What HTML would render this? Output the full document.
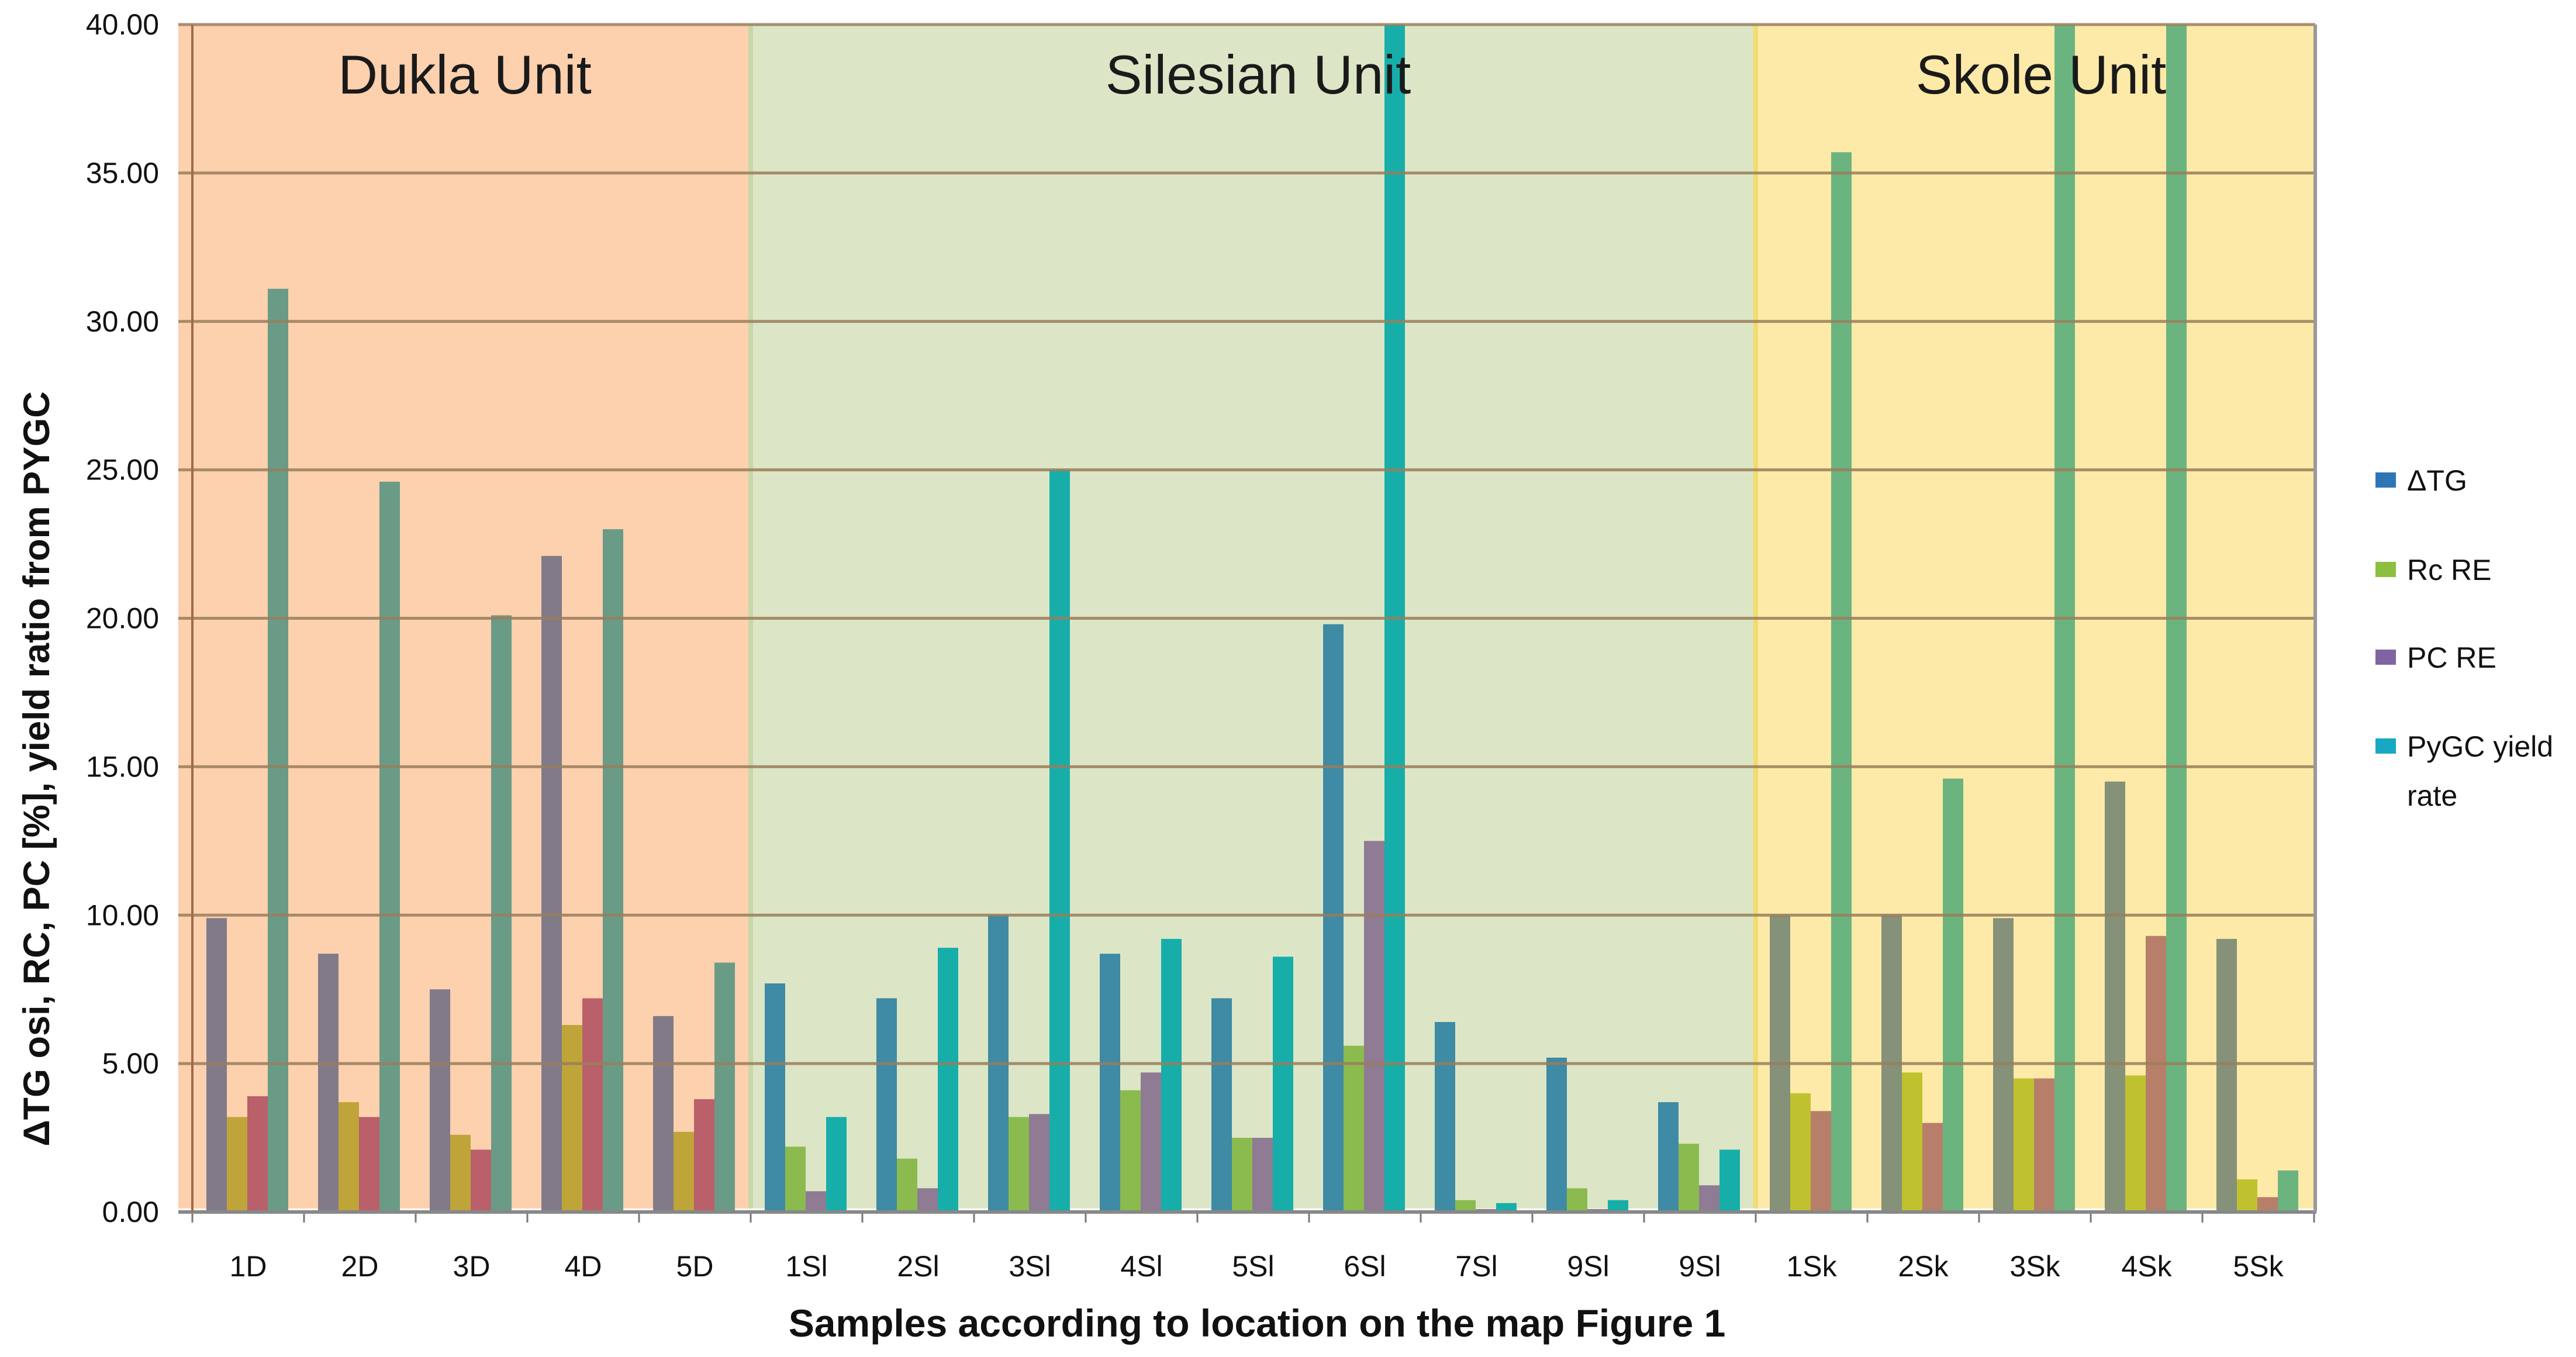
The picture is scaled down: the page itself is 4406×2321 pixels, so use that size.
<!DOCTYPE html>
<html><head><meta charset="utf-8">
<style>
html,body{margin:0;padding:0;background:#fff;}
svg{display:block;}
text{font-family:"Liberation Sans Narrow","Liberation Sans",sans-serif;}
</style></head>
<body>
<svg id="chart" width="4406" height="2321" viewBox="0 0 4406 2321" xmlns="http://www.w3.org/2000/svg">
<g id="regions"></g>
<g id="bars"></g>
<g id="overlays"></g>
<g id="grid"></g>
<g id="axes"></g>
<g id="labels"></g>
<g id="legend"></g>
</svg>
<script>
const categories = ["1D","2D","3D","4D","5D","1Sl","2Sl","3Sl","4Sl","5Sl","6Sl","7Sl","9Sl","9Sl","1Sk","2Sk","3Sk","4Sk","5Sk"];
const seriesNames = ["ΔTG","Rc RE","PC RE","PyGC yield rate"];
const dtg   = [9.9,8.7,7.5,22.1,6.6,7.7,7.2,10.0,8.7,7.2,19.8,6.4,5.2,3.7,10.0,10.0,9.9,14.5,9.2];
const rcRe  = [3.2,3.7,2.6,6.3,2.7,2.2,1.8,3.2,4.1,2.5,5.6,0.4,0.8,2.3,4.0,4.7,4.5,4.6,1.1];
const pcRe  = [3.9,3.2,2.1,7.2,3.8,0.7,0.8,3.3,4.7,2.5,12.5,0.1,0.1,0.9,3.4,3.0,4.5,9.3,0.5];
const pygc  = [31.1,24.6,20.1,23.0,8.4,3.2,8.9,25.0,9.2,8.6,45,0.3,0.4,2.1,35.7,14.6,45,45,1.4];
const yTicks = ["0.00","5.00","10.00","15.00","20.00","25.00","30.00","35.00","40.00"];
const units = [{name:"Dukla Unit",from:0,to:5},{name:"Silesian Unit",from:5,to:14},{name:"Skole Unit",from:14,to:19}];

const NS="http://www.w3.org/2000/svg";
const X0=329, CW=191, Y0=2073, YTOP=42, YMAX=40;
const yScale=v=>Y0-(Math.min(v,YMAX)/YMAX)*(Y0-YTOP);
const xCat=i=>X0+i*CW;
function mk(tag,attrs,parent){const e=document.createElementNS(NS,tag);for(const k in attrs)e.setAttribute(k,attrs[k]);parent.appendChild(e);return e;}
const gReg=document.getElementById('regions'),gBars=document.getElementById('bars'),gGrid=document.getElementById('grid'),gAx=document.getElementById('axes'),gLab=document.getElementById('labels'),gLeg=document.getElementById('legend');

const regionBg=["#fdd0ae","#dce6c6","#fdeaa8"];
const regionCols=[["#817a88","#bfa43a","#b9606a","#6a9b86"],["#3f8aa4","#8bbb4e","#8f7b93","#17aeaa"],["#869179","#bfc22e","#b77e69","#6bb47f"]];
const regionEdge=["#e8b090","#c8d8a8","#f0dc70"];
const regionTitleX=[795,2152,3491];

units.forEach((u,ri)=>{
  const x1=ri===0?305:xCat(u.from), x2=ri===2?3960:xCat(u.to);
  const r=mk('rect',{x:x1,y:YTOP,width:x2-x1,height:Y0-YTOP-6,fill:regionBg[ri]},gReg);
  
  
  if(ri>0){const l=mk('line',{x1:x1,x2:x1,y1:YTOP,y2:Y0-6,stroke:regionEdge[ri],'stroke-width':8},gReg);
    
    }
  const t=mk('text',{x:regionTitleX[ri],y:160,'text-anchor':'middle','font-size':94,fill:'#1a1a1a'},gLab);
  t.textContent=u.name;
  
  
});

yTicks.forEach((lab,i)=>{
  const v=parseFloat(lab), y=yScale(v);
  if(v>0){const l=mk('line',{x1:305,x2:3960,y1:y,y2:y,stroke:'#9a7e5c','stroke-width':5,opacity:0.85},gGrid);
    
    }
  const t=mk('text',{x:272,y:y+17,'text-anchor':'end','font-size':50,fill:'#111'},gLab);
  t.textContent=lab;
  
  
});

const series=[dtg,rcRe,pcRe,pygc];
const BW=35, OFF=24;
categories.forEach((c,i)=>{
  const ri=i<5?0:(i<14?1:2);
  series.forEach((s,si)=>{
    const x=xCat(i)+OFF+si*BW, y=yScale(s[i]);
    const b=mk('rect',{x:x,y:y,width:BW,height:Y0-y,fill:regionCols[ri][si]},gBars);
    
    
  });
  const t=mk('text',{x:xCat(i)+CW/2,y:2183,'text-anchor':'middle','font-size':50,fill:'#111'},gLab);
  t.textContent=c;
  
  
  const tk=mk('line',{x1:xCat(i),x2:xCat(i),y1:Y0,y2:Y0+18,stroke:'#777','stroke-width':3},gAx);
  
  
});
const tkl=mk('line',{x1:xCat(19),x2:xCat(19),y1:Y0,y2:Y0+18,stroke:'#777','stroke-width':3},gAx);



const ax=mk('line',{x1:305,x2:3962,y1:Y0,y2:Y0,stroke:'#888','stroke-width':6},gAx);


const ay=mk('line',{x1:X0,x2:X0,y1:YTOP,y2:Y0,stroke:'#a06a4a','stroke-width':4},gAx);


const ar=mk('line',{x1:3960,x2:3960,y1:YTOP,y2:Y0,stroke:'#999','stroke-width':6},gAx);



const xt=mk('text',{x:2150,y:2286,'text-anchor':'middle','font-size':66,'font-weight':'bold',fill:'#111'},gLab);
xt.textContent="Samples according to location on the map  Figure 1";


const yt=mk('text',{x:0,y:0,'text-anchor':'middle','font-size':63,'font-weight':'bold',fill:'#111',transform:'translate(84,1315) rotate(-90)'},gLab);
yt.textContent="ΔTG osi, RC, PC [%], yield ratio from PYGC";



const legCols=["#2e75b6","#8cbf3f","#8064a2","#17a8c4"];
const legY=[825,978,1128,1280];
seriesNames.forEach((n,i)=>{
  const g=mk('g',{},gLeg);
  
  
  mk('rect',{x:4063,y:legY[i]-17,width:35,height:26,fill:legCols[i]},g);
  const t=mk('text',{x:4117,y:legY[i]+14,'font-size':50,fill:'#111','font-family':'"Liberation Sans",sans-serif'},g);
  if(i===3){t.textContent="PyGC yield";
    const t2=mk('text',{x:4117,y:legY[i]+98,'font-size':50,fill:'#111','font-family':'"Liberation Sans",sans-serif'},g);
    t2.textContent="rate";}
  else t.textContent=n;
});
</script>
</body></html>
